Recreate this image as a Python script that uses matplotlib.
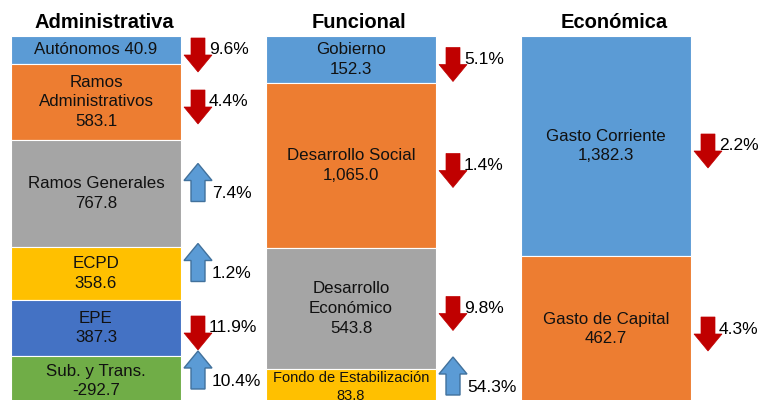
import matplotlib.pyplot as plt

plt.rcParams['font.family'] = ['Liberation Sans', 'DejaVu Sans']

# column titles
groups = ['Administrativa', 'Funcional', 'Económica']

# segment names, values (label), drawn size (as in picture) and % change
admin_names = ['Autónomos', 'Ramos\nAdministrativos', 'Ramos Generales', 'ECPD', 'EPE', 'Sub. y Trans.']
admin_values = [40.9, 583.1, 767.8, 358.6, 387.3, -292.7]
admin_sizes = [28, 76, 107, 53, 56, 50]
admin_change = [-9.6, -4.4, 7.4, 1.2, -11.9, 10.4]

func_names = ['Gobierno', 'Desarrollo Social', 'Desarrollo\nEconómico', 'Fondo de Estabilización']
func_values = [152.3, 1065.0, 543.8, 83.8]
func_sizes = [47, 165, 121, 36]
func_change = [-5.1, -1.4, -9.8, 54.3]

econ_names = ['Gasto Corriente', 'Gasto de Capital']
econ_values = [1382.3, 462.7]
econ_sizes = [220, 146]
econ_change = [-2.2, -4.3]

admin_colors = ['#5B9BD5', '#ED7D31', '#A5A5A5', '#FFC000', '#4472C4', '#70AD47']
func_colors = ['#5B9BD5', '#ED7D31', '#A5A5A5', '#FFC000']
econ_colors = ['#5B9BD5', '#ED7D31']

fig = plt.figure(figsize=(7.79, 4.0), dpi=100)
ax = fig.add_axes([0, 0, 1, 1])
ax.set_xlim(0, 779)
ax.set_ylim(400, 0)
ax.axis('off')

centers = [96, 351, 606]
bar_w = 170
top = 36

columns = [
    (admin_names, admin_values, admin_sizes, admin_change, admin_colors),
    (func_names, func_values, func_sizes, func_change, func_colors),
    (econ_names, econ_values, econ_sizes, econ_change, econ_colors),
]

for i, (names, values, sizes, change, colors) in enumerate(columns):
    xc = centers[i]
    ax.text(xc + 8, 22, groups[i], ha='center', va='center',
            fontsize=14.5, fontweight='bold')
    y = top
    ax_x = xc + bar_w / 2 + 17   # arrow x
    for name, val, h, ch, col in zip(names, values, sizes, change, colors):
        ax.bar(xc, h, bottom=y, width=bar_w, color=col, edgecolor='white', linewidth=0.8)
        ym = y + h / 2
        sep = ' ' if h < 35 else '\n'
        # long single-line names are set smaller to fit the bar
        fs = 10.5 if ('\n' not in name and len(name) > 18) else 12.2
        ax.text(xc, ym, name + sep + f'{val:,.1f}', ha='center', va='center',
                fontsize=fs, linespacing=1.4, color='#111111')
        if ch < 0:
            ax.arrow(ax_x, ym - 12, 0, 34, width=14, head_width=28, head_length=17,
                     length_includes_head=True, fc='#C00000', ec='#C00000', lw=0.5)
            tx = ax_x + 11
        else:
            ax.arrow(ax_x, ym + 8, 0, -38, width=14, head_width=28, head_length=17,
                     length_includes_head=True, fc='#5B9BD5', ec='#41719C', lw=1)
            tx = ax_x + 14
        ax.text(tx, ym, f'{abs(ch):.1f}%', ha='left', va='center', fontsize=12.5)
        y += h

fig.savefig('out.png', dpi=100)
